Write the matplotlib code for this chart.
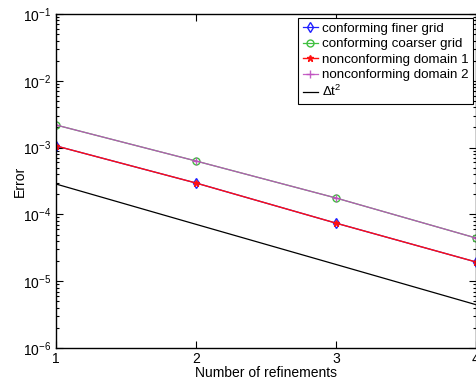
import matplotlib
matplotlib.use("Agg")
import matplotlib.pyplot as plt
from matplotlib.ticker import LogLocator, NullFormatter, FixedLocator

plt.rcParams['font.family'] = ['Liberation Sans', 'DejaVu Sans']
plt.rcParams['mathtext.default'] = 'regular'

refinements = [1, 2, 3, 4]
conf_finer = [1.06e-3, 2.95e-4, 7.4e-5, 1.94e-5]
conf_coarser = [2.18e-3, 6.3e-4, 1.76e-4, 4.43e-5]
nonconf_1 = [1.06e-3, 2.95e-4, 7.4e-5, 1.94e-5]
nonconf_2 = [2.18e-3, 6.3e-4, 1.76e-4, 4.43e-5]
dt2 = [2.85e-4, 7.1e-5, 1.78e-5, 4.45e-6]

fig = plt.figure(figsize=(4.77, 3.85), dpi=100)
ax = fig.add_axes([56/477, 37/385, 420/477, 334/385])

ax.plot(refinements, conf_finer, '-', color='#2020ff', marker='d', mfc='none', ms=5, lw=0.9, label='conforming finer grid')
ax.plot(refinements, conf_coarser, '-', color='#40c040', marker='o', mfc='none', ms=5, lw=0.9, label='conforming coarser grid')
ax.plot(refinements, nonconf_1, '-', color='#ff1010', marker='*', ms=5, lw=1.0, label='nonconforming domain 1')
ax.plot(refinements, nonconf_2, '-', color='#c050c0', marker='+', ms=6, lw=0.9, alpha=0.9, label='nonconforming domain 2')
ax.plot(refinements, dt2, '-', color='black', lw=0.9, label=r'$\Delta t^2$')

ax.set_yscale('log')
ax.set_xlim(1, 4)
ax.set_ylim(1e-6, 1e-1)
ax.xaxis.set_major_locator(FixedLocator(refinements))
ax.yaxis.set_major_locator(LogLocator(base=10, numticks=10))
ax.yaxis.set_minor_locator(LogLocator(base=10, subs=range(2, 10), numticks=20))
ax.yaxis.set_minor_formatter(NullFormatter())

ax.tick_params(which='both', direction='in', top=True, right=True, labelsize=10, width=0.8)
ax.tick_params(which='major', length=5)
ax.tick_params(which='minor', length=2.5)
ax.tick_params(axis='x', pad=3)
for s in ax.spines.values():
    s.set_linewidth(1.0)

ax.set_xlabel('Number of refinements', fontsize=10, labelpad=0)
ax.set_ylabel('Error', fontsize=10, labelpad=-3)

leg = ax.legend(loc='upper right', bbox_to_anchor=(0.993, 0.988), fontsize=9.6, frameon=True, fancybox=False,
                edgecolor='black', framealpha=1, handlelength=1.1, handletextpad=0.3,
                borderpad=0.35, labelspacing=0.23, borderaxespad=0)
leg.get_frame().set_linewidth(0.8)

fig.savefig('out.png', dpi=100)
